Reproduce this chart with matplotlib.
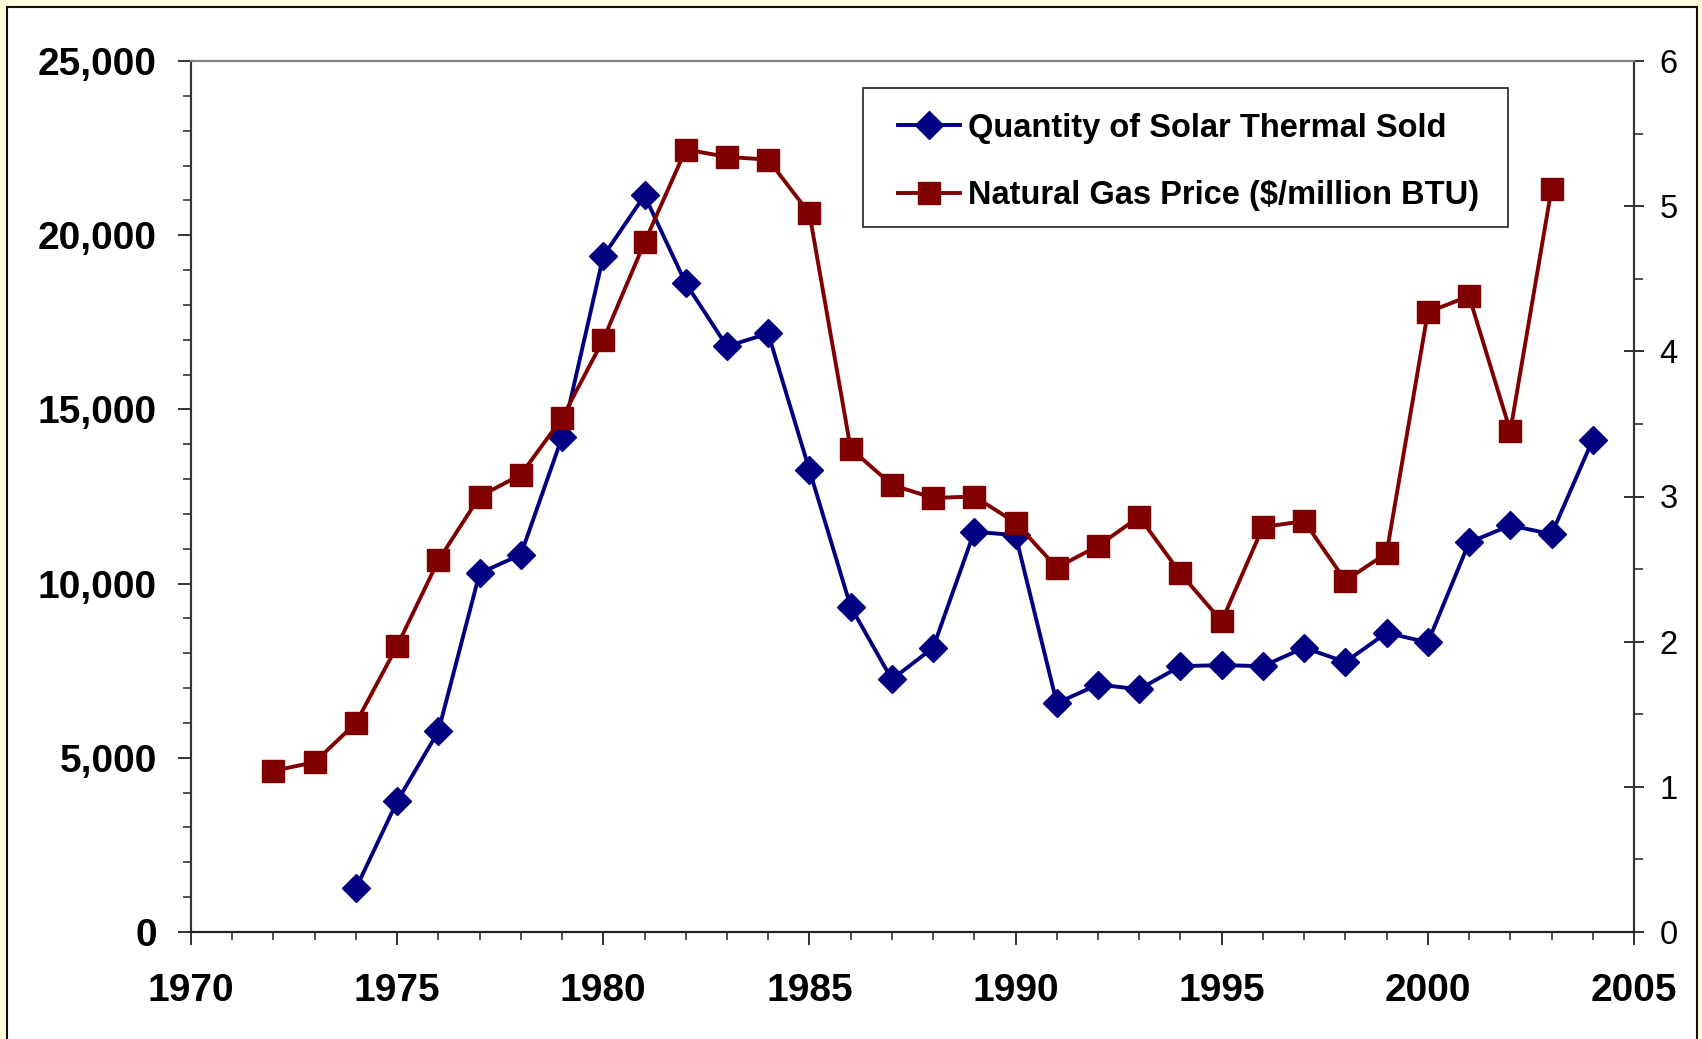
import numpy as np
import matplotlib
matplotlib.use("Agg")
import matplotlib.pyplot as plt
from matplotlib.patches import Rectangle
from matplotlib.ticker import MultipleLocator, FuncFormatter

plt.rcParams["font.family"] = ["Liberation Sans", "DejaVu Sans"]

# ── Data ────────────────────────────────────────────────────────────
solar_years = list(range(1974, 2005))
solar_qty = [1250, 3750, 5760, 10300, 10830, 14200, 19400, 21140, 18620,
             16810, 17180, 13260, 9340, 7250, 8160, 11490, 11390, 6570,
             7100, 6970, 7630, 7660, 7630, 8160, 7750, 8590, 8310, 11180,
             11670, 11420, 14130]

gas_years = list(range(1972, 2004))
gas_price = [1.11, 1.17, 1.44, 1.97, 2.56, 3.00, 3.15, 3.54, 4.08, 4.75,
             5.39, 5.34, 5.32, 4.95, 3.33, 3.08, 2.99, 3.00, 2.82, 2.51,
             2.66, 2.86, 2.47, 2.14, 2.79, 2.83, 2.42, 2.61, 4.27, 4.38,
             3.45, 5.12]

LABEL_SOLAR = "Quantity of Solar Thermal Sold"
LABEL_GAS = "Natural Gas Price ($/million BTU)"

BLUE = "#000080"
RED = "#800000"
W, H = 1702, 1039

# ── Figure ──────────────────────────────────────────────────────────
fig = plt.figure(figsize=(W / 100, H / 100), dpi=100, facecolor="#FFFFE0")
fig.patches.append(Rectangle((7 / W, -0.01), 1690 / W, 1.01 - 7 / H,
                             transform=fig.transFigure, facecolor="white",
                             edgecolor="#111111", lw=1.5, zorder=-5))

ax = fig.add_axes([191 / W, 1 - 932 / H, (1634 - 191) / W, (932 - 61) / H])
ax2 = ax.twinx()

ax.plot(solar_years, solar_qty, color=BLUE, lw=2.8, marker="D", ms=14.5,
        mec=BLUE, mfc=BLUE, label=LABEL_SOLAR)
ax2.plot(gas_years, gas_price, color=RED, lw=2.8, marker="s", ms=16,
         mec=RED, mfc=RED, label=LABEL_GAS)

ax.set_xlim(1970, 2005)
ax.set_ylim(0, 25000)
ax2.set_ylim(0, 6)

ax.xaxis.set_major_locator(MultipleLocator(5))
ax.xaxis.set_minor_locator(MultipleLocator(1))
ax.yaxis.set_major_locator(MultipleLocator(5000))
ax.yaxis.set_minor_locator(MultipleLocator(1000))
ax.yaxis.set_major_formatter(FuncFormatter(lambda v, p: f"{int(v):,}"))
ax2.yaxis.set_major_locator(MultipleLocator(1))
ax2.yaxis.set_minor_locator(MultipleLocator(0.5))

# spines
for a in (ax, ax2):
    a.spines["top"].set_color("#808080")
    a.spines["top"].set_linewidth(1.5)
    a.spines["bottom"].set_color("#222222")
    a.spines["left"].set_color("#333333")
    a.spines["right"].set_color("#333333")
    for s in ("bottom", "left", "right"):
        a.spines[s].set_linewidth(1.5)

ax.tick_params(axis="y", which="major", direction="out", length=9.4, width=1.3,
               pad=15, labelsize=28, color="#222222")
ax.tick_params(axis="y", which="minor", direction="out", length=5.8, width=1.1,
               color="#222222")
ax.tick_params(axis="x", which="major", direction="out", length=9.4, width=1.3,
               pad=20, labelsize=28, color="#222222")
ax.tick_params(axis="x", which="minor", direction="out", length=5.8, width=1.1,
               color="#222222")
ax2.tick_params(axis="y", which="major", direction="inout", length=14.4, width=1.3,
                pad=11, labelsize=23.5, color="#222222")
ax2.tick_params(axis="y", which="minor", direction="out", length=6.5, width=1.1,
                color="#222222")

for lbl in ax.get_xticklabels() + ax.get_yticklabels():
    lbl.set_fontweight("bold")

# legend: box drawn by hand, entries placed inside it
fig.patches.append(Rectangle((863 / W, 1 - 227 / H), (1508 - 863) / W, 139 / H,
                             transform=fig.transFigure, facecolor="white",
                             edgecolor="#222222", lw=1.2, zorder=5))
h1, l1 = ax.get_legend_handles_labels()
h2, l2 = ax2.get_legend_handles_labels()
leg = fig.legend(h1 + h2, l1 + l2, loc="center left",
                 bbox_to_anchor=(898 / W, 1 - 162 / H),
                 prop={"weight": "bold", "size": 23.5},
                 frameon=False, borderpad=0, handlelength=1.9,
                 handletextpad=0.25, labelspacing=1.13, borderaxespad=0)
leg.set_zorder(6)

fig.savefig("out.png", dpi=100, facecolor=fig.get_facecolor())
